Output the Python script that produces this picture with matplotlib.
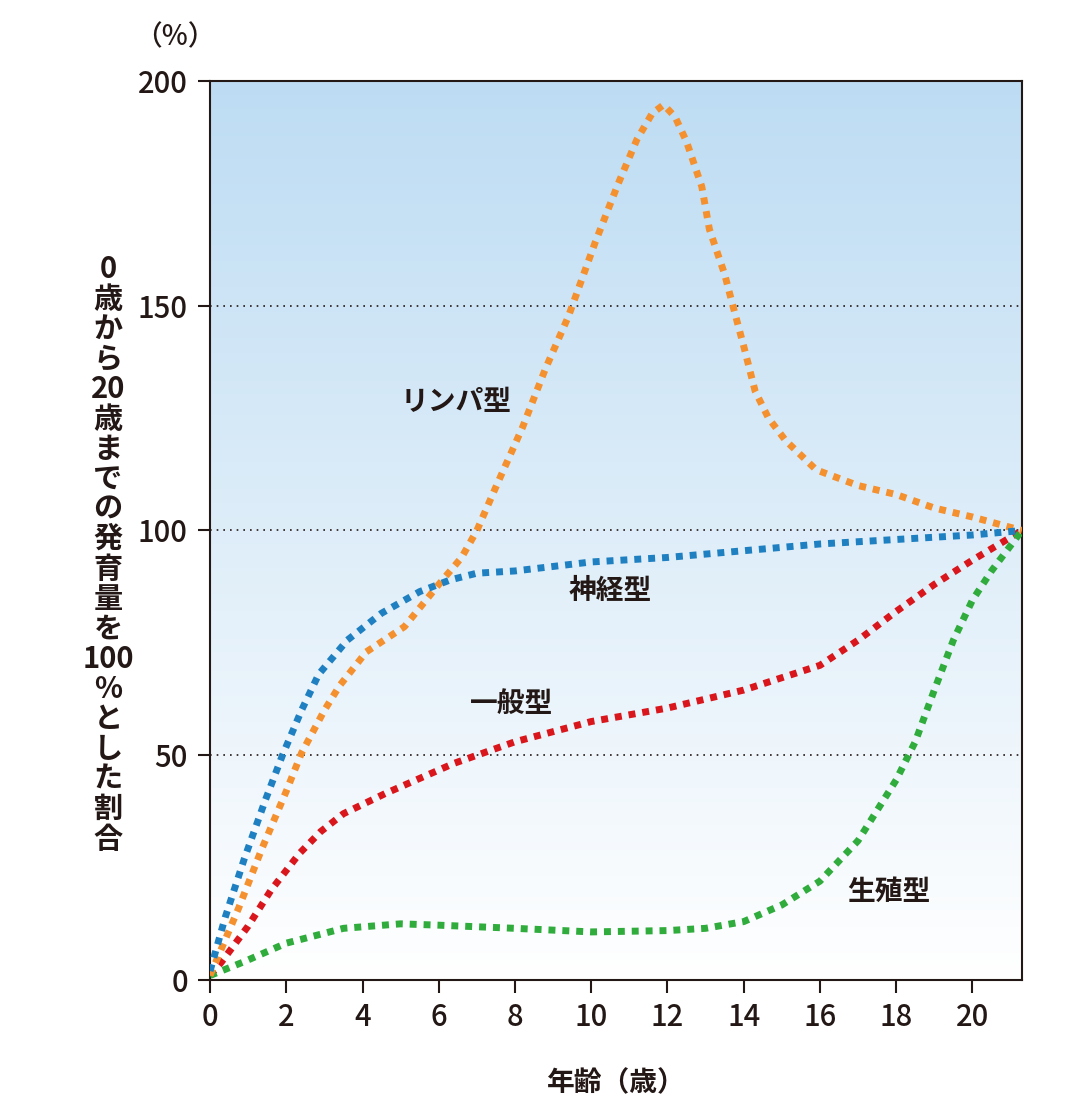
import matplotlib.pyplot as plt
import numpy as np

plt.rcParams['font.family'] = ['Noto Sans CJK JP', 'DejaVu Sans']

# values (age in years, % of growth at 20)
age_lymph = [0, 0.35, 0.75, 1.35, 2, 2.4, 3, 3.4, 4.1, 5.1, 6, 6.6, 7, 7.5, 8.2, 8.8, 9.4, 10.1, 10.7,
             11.2, 11.6, 11.9, 12.2, 12.5, 12.9, 13.1, 13.5, 13.7, 14, 14.3, 14.65, 15.1, 15.9, 17,
             18, 19, 20, 21.3]
lymph = [1, 8, 16, 29, 42, 50.5, 60, 65.5, 73, 78.6, 88, 94, 100, 109.7, 123, 136, 147.6, 164, 177,
         187, 192.8, 194.7, 192, 186.5, 176.5, 167, 157, 150.5, 141, 131, 125, 120, 113.5, 110,
         108, 105, 103, 100]

age_neural = [0, 0.4, 0.9, 1.45, 1.9, 2.4, 2.85, 3.6, 4.5, 5.5, 6.3, 7, 8, 10, 12, 14, 16, 18, 20, 21.3]
neural = [2, 14, 27, 40, 50, 60, 68, 75.6, 81.6, 86.4, 89, 90.5, 91, 93, 94, 95.5, 97, 98, 99, 100]

age_general = [0, 0.3, 1, 1.6, 2.35, 2.9, 3.5, 4.6, 6.4, 8, 10, 12, 14, 16, 17, 18, 19, 20, 21.3]
general = [1, 4, 12, 20, 28.2, 33, 37, 41.5, 48.2, 53, 57.5, 60.5, 64.5, 70, 75.6, 82, 88, 93.4, 100]

age_repro = [0, 0.9, 2, 3.5, 5, 6, 8, 10, 12, 13, 14, 15, 16, 17, 18, 18.5, 19, 19.5, 20, 20.5, 21.3]
repro = [1, 4.1, 8.2, 11.5, 12.5, 12.2, 11.5, 10.7, 11, 11.5, 13, 16.7, 22, 31, 44.5, 53, 64.5, 75.6, 84.5, 91, 100]

series = [
    (age_general, general, '#d9161c'),
    (age_repro, repro, '#2fac3b'),
    (age_lymph, lymph, '#f5902f'),
    (age_neural, neural, '#1f80c1'),
]

labels = [('リンパ型', 6.45, 128.5), ('神経型', 10.5, 86.5), ('一般型', 7.9, 61.3), ('生殖型', 17.8, 19.5)]

ink = '#231815'

fig = plt.figure(figsize=(10.81, 11.09), dpi=100)
ax = fig.add_axes([0.1943, 0.1163, 0.7511, 0.8107])

# background gradient, light blue at the top fading to white
top = np.array([189, 220, 243]) / 255
t = np.linspace(0, 1, 256)[:, None]
grad = top[None, :] * (1 - t) + np.ones(3)[None, :] * t
ax.imshow(grad[:, None, :], extent=[0, 1, 0, 1], transform=ax.transAxes,
          aspect='auto', zorder=0, interpolation='bilinear')

for yv in (50, 100, 150):
    ax.axhline(yv, color=ink, lw=1.2, ls=(0, (1, 3)), zorder=1)

for xs, ys, c in series:
    ax.plot(xs, ys, color=c, lw=5, ls=(0, (1, 1)), zorder=3)

for txt, x, y in labels:
    ax.text(x, y, txt, fontsize=20, fontweight='bold', color=ink,
            ha='center', va='center', zorder=4)

ax.set_xlim(0, 21.3)
ax.set_ylim(0, 200)
ax.set_xticks(range(0, 21, 2))
ax.set_yticks([0, 50, 100, 150, 200])
ax.tick_params(direction='out', length=9, width=1.5, color=ink,
               labelsize=21, labelcolor=ink, pad=7)
for lab in ax.get_xticklabels() + ax.get_yticklabels():
    lab.set_fontweight('medium')
for s in ax.spines.values():
    s.set_color(ink)
    s.set_linewidth(1.5)

ax.set_xlabel('年齢（歳）', fontsize=20, color=ink, labelpad=26, fontweight='bold')
fig.text(175 / 1081, 1 - 37 / 1109, '（%）', fontsize=20, color=ink,
         ha='center', va='center', fontweight='medium')
ylab = '0\n歳\nか\nら\n20\n歳\nま\nで\nの\n発\n育\n量\nを\n100\n%\nと\nし\nた\n割\n合'
fig.text(108 / 1081, 1 - 554 / 1109, ylab, fontsize=21, color=ink,
         ha='center', va='center', linespacing=1.0, fontweight='bold')

fig.savefig('out.png', dpi=100)
